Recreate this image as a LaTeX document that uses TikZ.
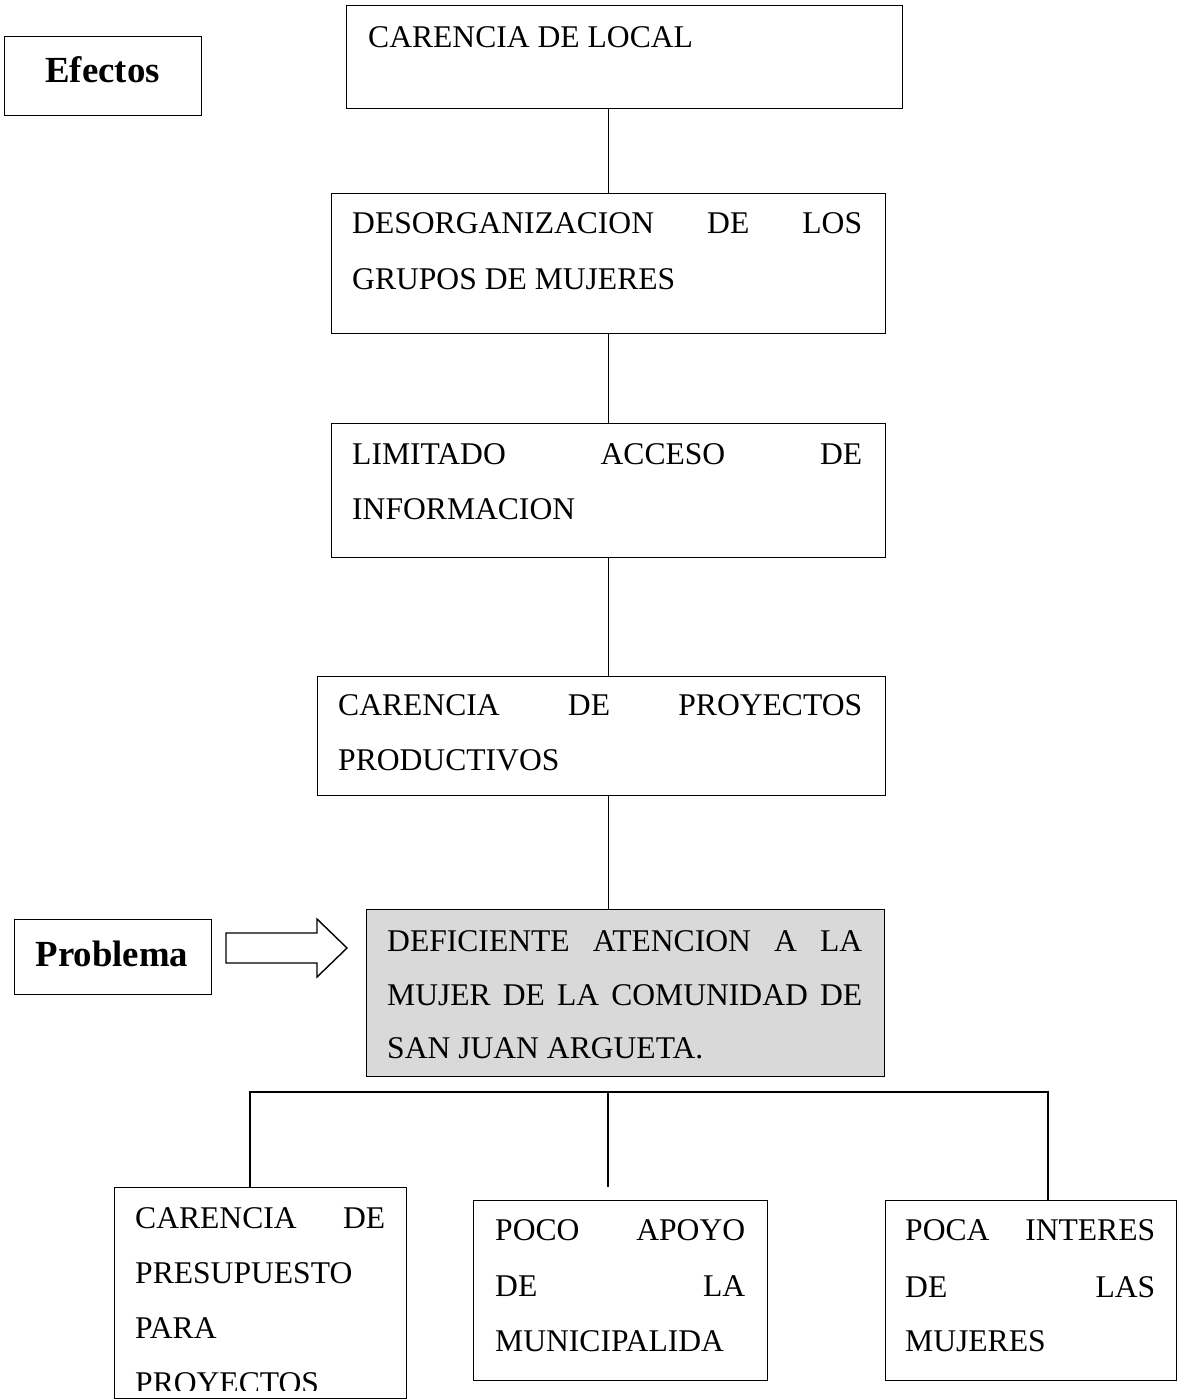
\documentclass[tikz,border=0pt]{standalone}
\usepackage{fontspec}
\setmainfont{Liberation Serif}
\newcommand\txtfont{\fontsize{31.6}{55}\selectfont}
\newcommand\lblfont{\bfseries\fontsize{36.8}{40}\selectfont}
\tikzset{
  boxnode/.style={draw, line width=1.4pt, inner sep=0pt, anchor=north west},
  txt/.style={inner sep=0pt, anchor=base west, font=\txtfont},
  lbl/.style={inner sep=0pt, anchor=base, font=\lblfont},
  conn/.style={line width=1.4pt},
}
\begin{document}
\begin{tikzpicture}[x=1pt,y=-1pt]
\useasboundingbox (0,0) rectangle (1178,1400);
% label boxes
\node[boxnode, minimum width=197, minimum height=79] (efb) at (4,36) {};
\node[lbl] (eft) at (102.5,82) {Efectos};
\node[boxnode, minimum width=197, minimum height=75] (prb) at (14,919) {};
\node[lbl] (prt) at (112,966) {Problema};
% chain boxes
\node[boxnode, minimum width=556, minimum height=103] (local) at (346,5) {};
\node[txt] (localt) at (368,47) {CARENCIA DE LOCAL};
\node[boxnode, minimum width=554, minimum height=140] (desorg) at (331,193) {};
\node[txt] (desorg1) at (352,233) {\hbox to 510pt{DESORGANIZACION\hfill DE\hfill LOS}};
\node[txt] (desorg2) at (352,289) {GRUPOS DE MUJERES};
\node[boxnode, minimum width=554, minimum height=134] (limit) at (331,423) {};
\node[txt] (limit1) at (352,464) {\hbox to 510pt{LIMITADO\hfill ACCESO\hfill DE}};
\node[txt] (limit2) at (352,519) {INFORMACION};
\node[boxnode, minimum width=568, minimum height=119] (proy) at (317,676) {};
\node[txt] (proy1) at (338,715) {\hbox to 524pt{CARENCIA\hfill DE\hfill PROYECTOS}};
\node[txt] (proy2) at (338,770) {PRODUCTIVOS};
\node[boxnode, fill=gray!30, minimum width=518, minimum height=167] (defi) at (366,909) {};
\node[txt] (defi1) at (387,951) {\hbox to 475pt{DEFICIENTE\hfill ATENCION\hfill A\hfill LA}};
\node[txt] (defi2) at (387,1005) {\hbox to 475pt{MUJER\hfill DE\hfill LA\hfill COMUNIDAD\hfill DE}};
\node[txt] (defi3) at (387,1058) {SAN JUAN ARGUETA.};
% arrow
\draw[conn] (226,933) -- (317,933) -- (317,919) -- (347,948) -- (317,977) -- (317,963) -- (226,963) -- cycle;
% cause boxes
\node[boxnode, minimum width=292, minimum height=211] (c1) at (114,1187) {};
\node[txt] (c1a) at (135,1228) {\hbox to 250pt{CARENCIA\hfill DE}};
\node[txt] (c1b) at (135,1283) {PRESUPUESTO};
\node[txt] (c1c) at (135,1338) {PARA};
\begin{scope}
\clip (100,1150) rectangle (420,1390);
\node[txt] (c1d) at (135,1393) {PROYECTOS};
\end{scope}
\node[boxnode, minimum width=294, minimum height=180] (c2) at (473,1200) {};
\node[txt] (c2a) at (495,1240) {\hbox to 250pt{POCO\hfill APOYO}};
\node[txt] (c2b) at (495,1296) {\hbox to 250pt{DE\hfill LA}};
\node[txt] (c2c) at (495,1351) {MUNICIPALIDA};
\node[boxnode, minimum width=291, minimum height=180] (c3) at (885,1200) {};
\node[txt] (c3a) at (905,1240) {\hbox to 250pt{POCA\hfill INTERES}};
\node[txt] (c3b) at (905,1297) {\hbox to 250pt{DE\hfill LAS}};
\node[txt] (c3c) at (905,1351) {MUJERES};
% connectors
\draw[conn] (desorg.north |- local.south) -- (desorg.north);
\draw[conn] (desorg.south) -- (limit.north);
\draw[conn] (limit.south) -- (limit.south |- proy.north);
\draw[conn] (limit.south |- proy.south) -- (limit.south |- defi.north);
\coordinate (hl) at (250,1092);
\coordinate (hr) at (1048,1092);
\coordinate (hm) at (608,1092);
\coordinate (hmend) at (608,1187);
\draw[conn] (hl |- c1.north) -- (hl) -- (hr) -- (hr |- c3.north);
\draw[conn] (hm) -- (hmend);
\end{tikzpicture}
\end{document}
